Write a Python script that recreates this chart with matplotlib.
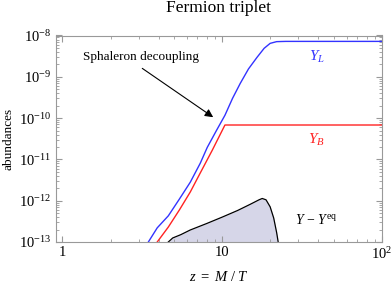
import numpy as np
import matplotlib.pyplot as plt
from matplotlib.ticker import LogLocator, NullFormatter

plt.rcParams['font.family'] = ['Liberation Serif', 'DejaVu Serif']
plt.rcParams['mathtext.fontset'] = 'custom'
plt.rcParams['mathtext.rm'] = 'Liberation Serif'
plt.rcParams['mathtext.it'] = 'Liberation Serif:italic'

# Y_L (blau)
zL = [3.45, 3.92, 4.6, 5.4, 6.31, 7.29, 8.06, 9.2, 10.4, 11.6, 12.96, 14.6, 16.5, 18.3, 19.95, 21.9, 25.0, 100.0]
YL = [1e-13, 2.2e-13, 4.3e-13, 1.1e-12, 2.8e-12, 8.1e-12, 1.95e-11, 5.0e-11, 1.17e-10, 3.0e-10, 6.9e-10,
      1.55e-9, 2.95e-9, 4.9e-9, 6.45e-9, 7.1e-9, 7.2e-9, 7.2e-9]

# Y_B (rot)
zB = [3.92, 4.6, 5.4, 6.31, 7.29, 8.66, 10.4, 100.0]
YB = [1e-13, 2.3e-13, 6.0e-13, 1.62e-12, 4.7e-12, 1.66e-11, 6.8e-11, 6.8e-11]

# Y - Y^eq (schwarz, gefuellt)
zD = [4.6, 4.9, 5.5, 6.31, 8.0, 10.0, 12.5, 15.0, 17.0, 17.8, 18.8, 19.95, 21.0, 21.9, 22.4]
YD = [1e-13, 1.25e-13, 1.5e-13, 1.95e-13, 2.8e-13, 4.0e-13, 5.8e-13, 8.2e-13, 1.05e-12, 1.13e-12, 1.05e-12,
      7.1e-13, 3.8e-13, 1.7e-13, 1e-13]

fig = plt.figure(figsize=(3.92, 2.84), dpi=100)
ax = fig.add_axes([0.1416, 0.148, 0.8329, 0.727])

ax.fill_between(zD, 1e-13, YD, color='#d6d6e8', lw=0)
ax.plot(zD, YD, color='black', lw=0.9)
ax.plot(zL, YL, color='#3333ff', lw=1.0)
ax.plot(zB, YB, color='#ff2222', lw=1.0)

ax.set_xscale('log')
ax.set_yscale('log')
ax.set_xlim(0.905, 100)
ax.set_ylim(1e-13, 1e-8)

ax.yaxis.set_major_locator(LogLocator(base=10, numticks=10))
ax.yaxis.set_minor_locator(LogLocator(base=10, subs=np.arange(2, 10), numticks=20))
ax.yaxis.set_minor_formatter(NullFormatter())
ax.xaxis.set_minor_locator(LogLocator(base=10, subs=np.arange(2, 10), numticks=20))
ax.xaxis.set_minor_formatter(NullFormatter())
ax.set_xticks([1, 10, 100])
ax.set_xticklabels(['1', '10', r'$10^{2}$'])

for s in ax.spines.values():
    s.set_color('#999999')
    s.set_linewidth(0.8)
ax.tick_params(which='both', direction='in', top=True, right=True, color='#999999', labelsize=10.5, pad=3)
ax.tick_params(which='major', length=4, width=0.8)
ax.tick_params(which='minor', length=2, width=0.6)

ax.set_title('Fermion triplet', fontsize=12.5, pad=17)
ax.set_ylabel('abundances', fontsize=9.5, labelpad=3)
ax.set_xlabel(r'$z\ =\ M\ /\ T$', fontsize=10.5, labelpad=6)

ax.text(3.12, 2.95e-9, 'Sphaleron decoupling', fontsize=9.5, ha='center', va='center')
ax.annotate('', xy=(8.78, 1.05e-10), xytext=(3.16, 1.6e-9),
            arrowprops=dict(arrowstyle='-|>', color='black', lw=0.8, shrinkA=0, shrinkB=0, mutation_scale=12))
ax.text(39, 2.95e-9, r'$Y_L$', color='#3333ff', fontsize=11, ha='center', va='center')
ax.text(39, 2.9e-11, r'$Y_B$', color='#ff2222', fontsize=11, ha='center', va='center')
ax.text(39, 3.4e-13, r'$Y\,-\,Y^{\mathrm{eq}}$', color='black', fontsize=10, ha='center', va='center')

fig.savefig('out.png', dpi=100)
